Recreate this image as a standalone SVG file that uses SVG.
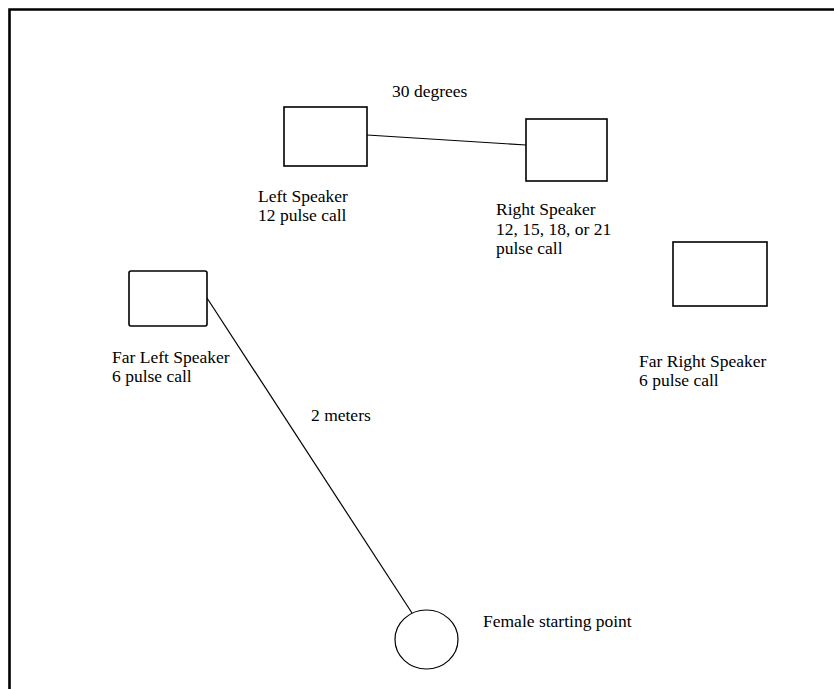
<svg xmlns="http://www.w3.org/2000/svg" width="834" height="689" viewBox="0 0 834 689">
<style>
.box{fill:#fff;stroke:#000;stroke-width:1.6}
.ln{fill:none;stroke:#000;stroke-width:1.2}
.t{font-family:'Liberation Serif','Times New Roman','DejaVu Serif',serif;font-size:17.5px;fill:#000}
</style>
<rect x="0" y="0" width="834" height="689" fill="#fff"/>
<path d="M9.5 700 V9.5 H840" fill="none" stroke="#000" stroke-width="2.6"/>
<g id="connectors">
<path class="ln" d="M367 135 L526 145"/>
<path class="ln" d="M207 298 L412 613"/>
</g>
<g id="angle-label"><text class="t" x="392" y="97">30 degrees</text></g>
<g id="left-speaker">
<rect class="box" x="284" y="107" width="83" height="59"/>
<text class="t" x="258" y="202">Left Speaker</text>
<text class="t" x="258" y="221">12 pulse call</text>
</g>
<g id="right-speaker">
<rect class="box" x="526" y="119" width="81" height="62"/>
<text class="t" x="496" y="215">Right Speaker</text>
<text class="t" x="496" y="235">12, 15, 18, or 21</text>
<text class="t" x="496" y="254">pulse call</text>
</g>
<g id="far-left-speaker">
<rect class="box" x="129" y="271" width="78" height="55" rx="2"/>
<text class="t" x="112" y="363">Far Left Speaker</text>
<text class="t" x="112" y="382">6 pulse call</text>
</g>
<g id="far-right-speaker">
<rect class="box" x="673" y="242" width="94" height="64"/>
<text class="t" x="639" y="367">Far Right Speaker</text>
<text class="t" x="639" y="386">6 pulse call</text>
</g>
<g id="distance-label"><text class="t" x="311" y="421">2 meters</text></g>
<g id="female-start">
<ellipse class="ln" cx="426.5" cy="639.5" rx="31.5" ry="29.5"/>
<text class="t" x="483" y="627">Female starting point</text>
</g>
</svg>
